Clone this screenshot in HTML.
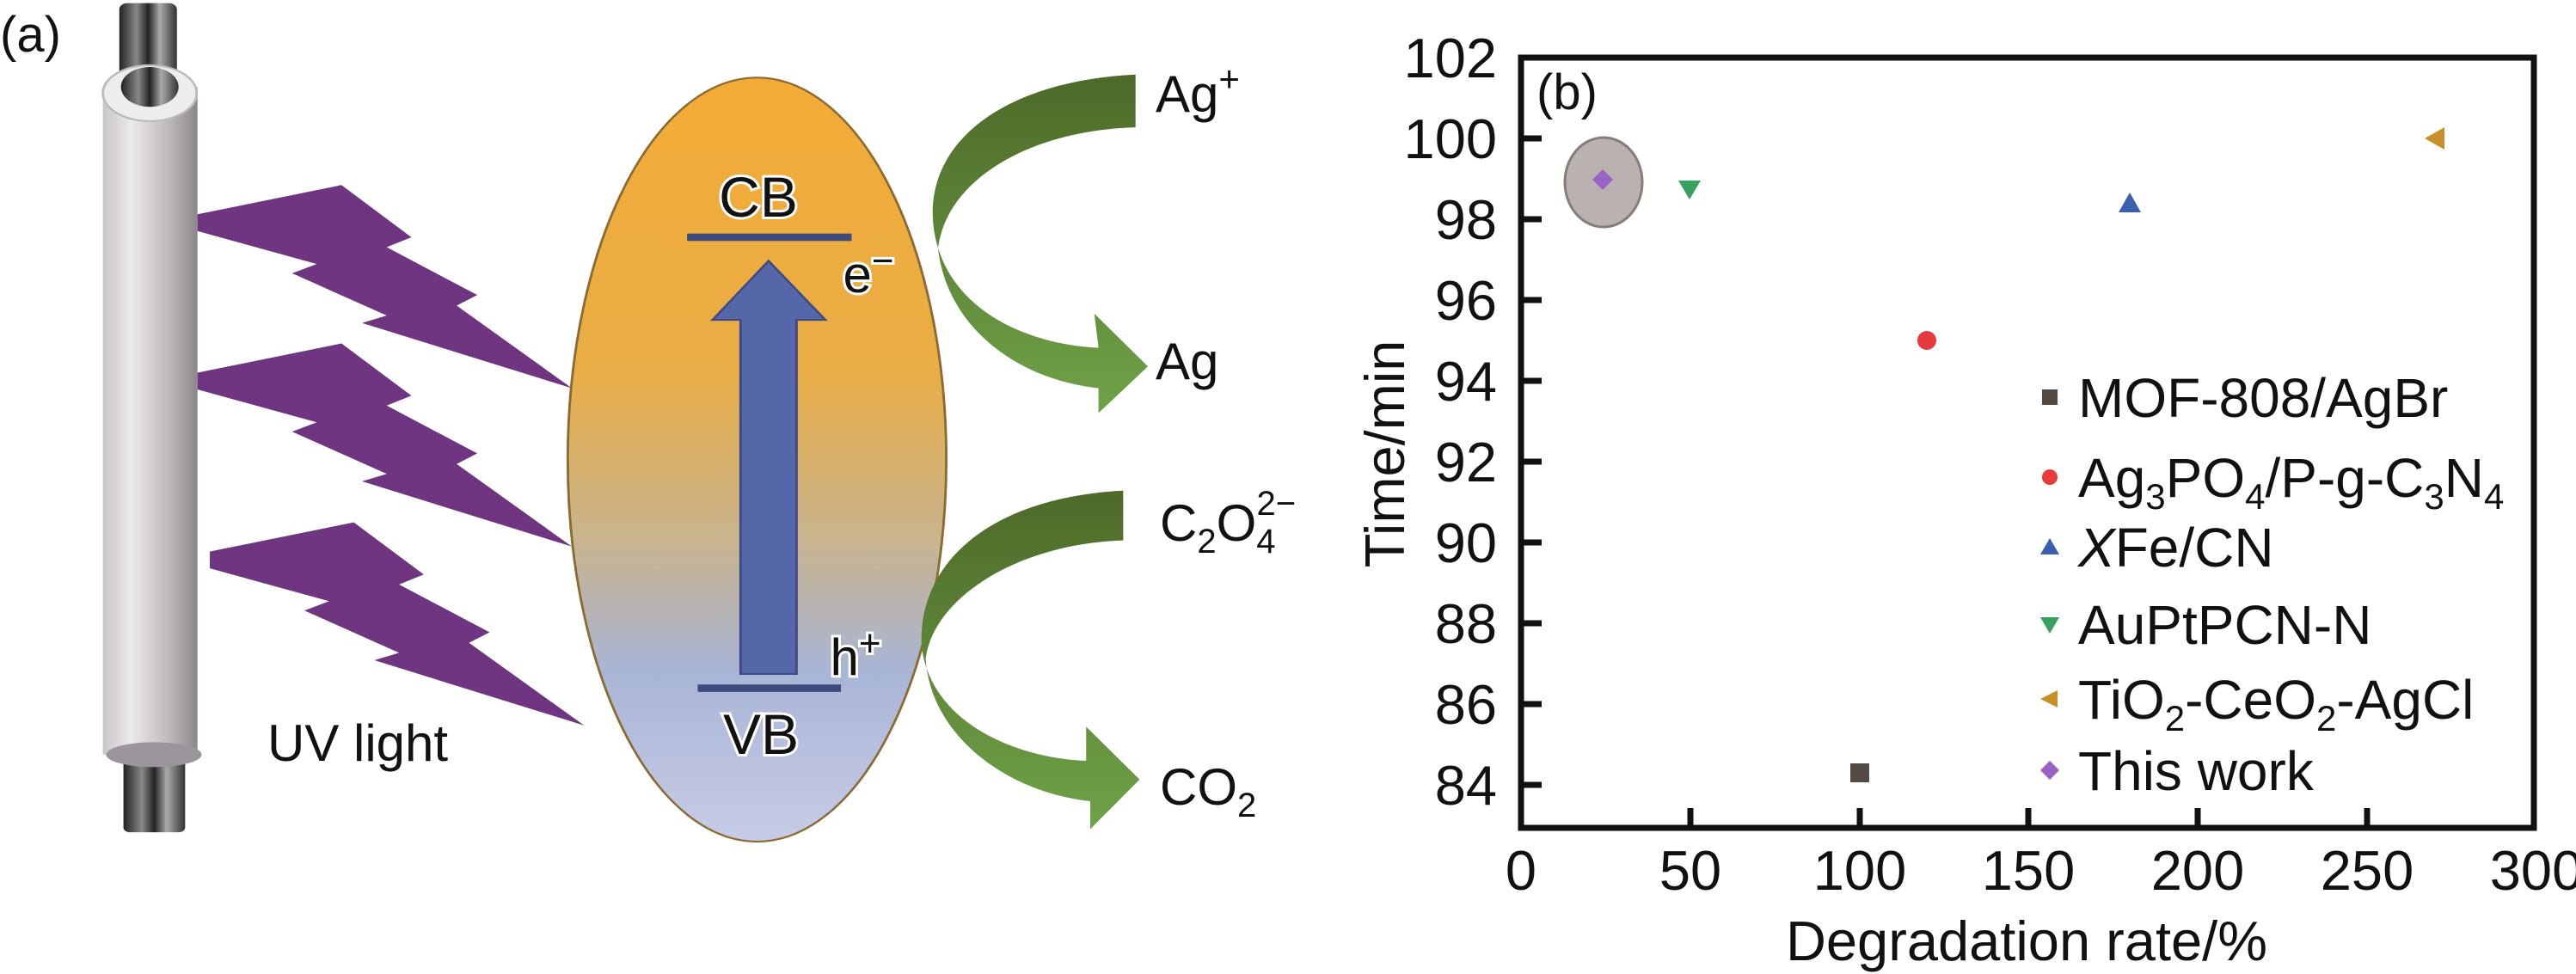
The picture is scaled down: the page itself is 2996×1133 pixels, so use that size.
<!DOCTYPE html>
<html><head><meta charset="utf-8"><style>
html,body{margin:0;padding:0;background:#fff}
svg{display:block}
text{font-family:"Liberation Sans",Arial,sans-serif;fill:#111}
</style></head><body>
<svg width="2996" height="1133" viewBox="0 0 2996 1133" xmlns="http://www.w3.org/2000/svg">
<defs>
<linearGradient id="ell" x1="0" y1="0" x2="0" y2="1">
<stop offset="0" stop-color="#f3ab36"/><stop offset="0.38" stop-color="#e9ad45"/>
<stop offset="0.6" stop-color="#c9b48c"/><stop offset="0.78" stop-color="#a9b5d6"/>
<stop offset="1" stop-color="#c7cce6"/></linearGradient>
<linearGradient id="tube" x1="0" y1="0" x2="1" y2="0">
<stop offset="0" stop-color="#c9c4c8"/><stop offset="0.3" stop-color="#ece9eb"/>
<stop offset="0.7" stop-color="#bdb8bc"/><stop offset="1" stop-color="#8c868a"/></linearGradient>
<linearGradient id="metal" x1="0" y1="0" x2="1" y2="0">
<stop offset="0" stop-color="#222"/><stop offset="0.3" stop-color="#888"/><stop offset="0.5" stop-color="#222"/>
<stop offset="0.7" stop-color="#aaa"/><stop offset="1" stop-color="#333"/></linearGradient>
<linearGradient id="grn" x1="0" y1="0" x2="0" y2="1">
<stop offset="0" stop-color="#4d6a29"/><stop offset="1" stop-color="#6fa247"/></linearGradient>
</defs>

<!-- Left panel drawn in zoom coords -->
<g transform="scale(0.957 0.7225)">
  <rect x="145" y="5" width="70" height="140" fill="url(#metal)" rx="10"/>
  <rect x="150" y="1200" width="75" height="140" fill="url(#metal)" rx="8"/>
  <rect x="125" y="140" width="115" height="1075" fill="url(#tube)"/>
  <ellipse cx="182" cy="150" rx="57" ry="45" fill="#efeced" stroke="#bbb" stroke-width="3"/>
  <ellipse cx="182" cy="140" rx="35" ry="32" fill="url(#metal)"/>
  <ellipse cx="187" cy="1215" rx="58" ry="20" fill="#9a959a"/>

  <g fill="#6f3580">
    <polygon points="240,345 415,298 500,382 470,398 580,475 555,492 695,625 440,520 470,508 355,440 385,425 240,372"/>
    <polygon transform="translate(0,255)" points="240,345 415,298 500,382 470,398 580,475 555,492 695,625 440,520 470,508 355,440 385,425 240,372"/>
    <polygon transform="translate(15,543)" points="240,345 415,298 500,382 470,398 580,475 555,492 695,625 440,520 470,508 355,440 385,425 240,372"/>
  </g>

  <ellipse cx="920" cy="740" rx="230" ry="615" fill="url(#ell)" stroke="#8c6a32" stroke-width="3"/>
  <rect x="835" y="376" width="200" height="12" fill="#3f4b7c"/>
  <rect x="848" y="1102" width="174" height="12" fill="#3f4b7c"/>
  <polygon points="900,1085 900,515 866,515 934,420 1003,515 968,515 968,1085" fill="#5567a8" stroke="#3d4a86" stroke-width="3"/>

  <path d="M1380,120 C1220,130 1120,230 1135,370 C1150,500 1250,555 1335,560 L1330,505 L1395,590 L1335,665 L1335,625 C1230,610 1150,520 1140,400 C1150,290 1250,210 1380,205 Z" fill="url(#grn)"/>
  <path d="M1365,790 C1210,800 1115,900 1120,1040 C1130,1160 1230,1220 1320,1225 L1320,1170 L1385,1255 L1325,1335 L1325,1290 C1220,1275 1130,1180 1125,1060 C1135,960 1240,875 1365,870 Z" fill="url(#grn)"/>
</g>

<text x="0" y="60" font-size="58">(a)</text>
<g font-size="66" stroke="#fff" stroke-width="6" paint-order="stroke" text-anchor="middle">
  <text x="882" y="252">CB</text>
  <text x="885" y="877">VB</text>
  <text x="1010" y="340" font-size="60">e<tspan dy="-22" font-size="44">−</tspan></text>
  <text x="995" y="785" font-size="60">h<tspan dy="-22" font-size="44">+</tspan></text>
</g>
<text x="311" y="885" font-size="60">UV light</text>
<text x="1344" y="130" font-size="60">Ag<tspan dy="-24" font-size="42">+</tspan></text>
<text x="1344" y="441" font-size="60">Ag</text>
<text x="1349" y="629" font-size="60">C<tspan dy="14" font-size="40">2</tspan><tspan dy="-14">O</tspan><tspan dy="14" font-size="40">4</tspan><tspan dx="-22" dy="-44" font-size="40">2−</tspan></text>
<text x="1349" y="936" font-size="60">CO<tspan dy="14" font-size="40">2</tspan></text>

<!-- Right panel -->
<rect x="1769" y="67" width="1178" height="896" fill="none" stroke="#111" stroke-width="7"/>
<g stroke="#111" stroke-width="7">
  <line x1="1769" y1="161" x2="1793" y2="161"/><line x1="1769" y1="255" x2="1793" y2="255"/>
  <line x1="1769" y1="349" x2="1793" y2="349"/><line x1="1769" y1="443" x2="1793" y2="443"/>
  <line x1="1769" y1="537" x2="1793" y2="537"/><line x1="1769" y1="631" x2="1793" y2="631"/>
  <line x1="1769" y1="725" x2="1793" y2="725"/><line x1="1769" y1="819" x2="1793" y2="819"/>
  <line x1="1769" y1="913" x2="1793" y2="913"/>
  <line x1="1966" y1="963" x2="1966" y2="940"/><line x1="2163" y1="963" x2="2163" y2="940"/>
  <line x1="2359" y1="963" x2="2359" y2="940"/><line x1="2556" y1="963" x2="2556" y2="940"/>
  <line x1="2753" y1="963" x2="2753" y2="940"/>
</g>
<g font-size="65" text-anchor="end">
  <text x="1741" y="90">102</text><text x="1741" y="184">100</text><text x="1741" y="278">98</text>
  <text x="1741" y="372">96</text><text x="1741" y="466">94</text><text x="1741" y="560">92</text>
  <text x="1741" y="654">90</text><text x="1741" y="748">88</text><text x="1741" y="842">86</text>
  <text x="1741" y="936">84</text>
</g>
<g font-size="65" text-anchor="middle">
  <text x="1769" y="1035">0</text><text x="1966" y="1035">50</text><text x="2163" y="1035">100</text>
  <text x="2359" y="1035">150</text><text x="2556" y="1035">200</text><text x="2753" y="1035">250</text>
  <text x="2950" y="1035">300</text>
  <text x="2357" y="1117">Degradation rate/%</text>
  <text transform="translate(1633 528) rotate(-90)">Time/min</text>
</g>
<text x="1787" y="127" font-size="58">(b)</text>

<ellipse cx="1865" cy="212" rx="45" ry="52" fill="#b9b2b0" stroke="#857d7b" stroke-width="3"/>
<polygon points="1864,197 1876,209 1864,221 1852,209" fill="#9a62c4"/>
<polygon points="1952,210 1978,210 1965,232" fill="#3aa05e"/>
<polygon points="2477,224 2490,247 2464,247" fill="#3a5fae"/>
<polygon points="2820,161 2843,148 2843,174" fill="#c98f2a"/>
<circle cx="2241" cy="396" r="11" fill="#e63a3c"/>
<rect x="2152" y="888" width="22" height="22" fill="#544a45"/>

<!-- Legend -->
<rect x="2375" y="453" width="18" height="18" fill="#544a45"/>
<circle cx="2384" cy="555" r="9" fill="#e63a3c"/>
<polygon points="2384,626 2395,645 2373,645" fill="#3a5fae"/>
<polygon points="2373,718 2395,718 2384,737" fill="#3aa05e"/>
<polygon points="2373,813 2393,803 2393,823" fill="#c98f2a"/>
<polygon points="2384,885 2395,896 2384,907 2373,896" fill="#9a62c4"/>
<g font-size="64">
  <text x="2417" y="485">MOF-808/AgBr</text>
  <text x="2417" y="578">Ag<tspan dy="14" font-size="42">3</tspan><tspan dy="-14">PO</tspan><tspan dy="14" font-size="42">4</tspan><tspan dy="-14">/P-g-C</tspan><tspan dy="14" font-size="42">3</tspan><tspan dy="-14">N</tspan><tspan dy="14" font-size="42">4</tspan></text>
  <text x="2417" y="659"><tspan font-style="italic">X</tspan>Fe/CN</text>
  <text x="2417" y="749">AuPtPCN-N</text>
  <text x="2417" y="836">TiO<tspan dy="14" font-size="42">2</tspan><tspan dy="-14">-CeO</tspan><tspan dy="14" font-size="42">2</tspan><tspan dy="-14">-AgCl</tspan></text>
  <text x="2417" y="919">This work</text>
</g>
</svg>
</body></html>
